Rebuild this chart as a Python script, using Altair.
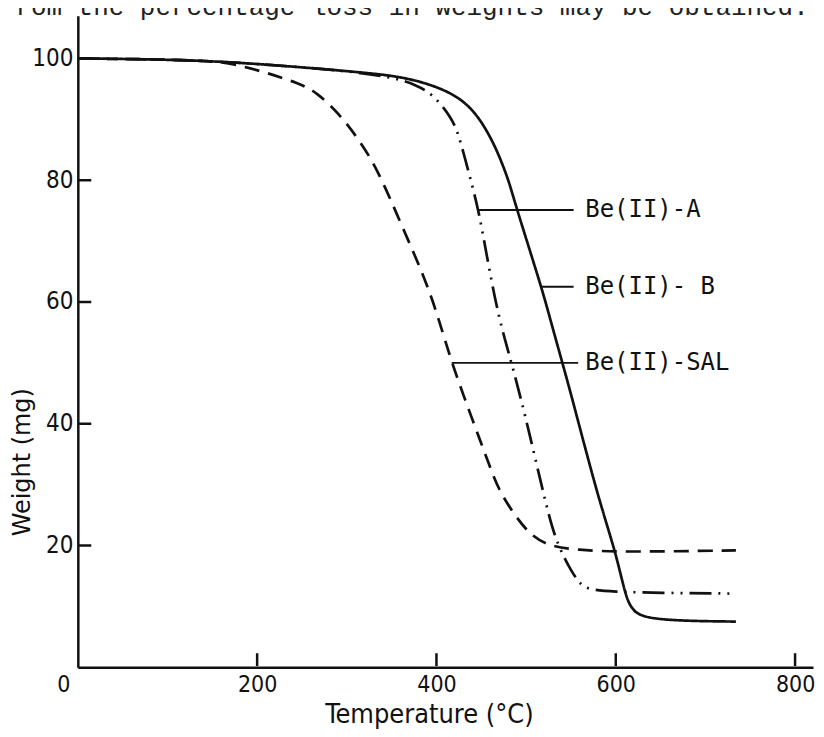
import altair as alt
import pandas as pd

# ---- data ----
b_temp = [0, 136, 247, 310, 358, 395, 425, 444, 458, 469, 481, 488, 517, 525, 541, 551, 581, 600, 611, 618, 633, 734]
b_wt   = [100, 99.8, 98.6, 97.8, 97.1, 95.7, 93.7, 91.0, 87.7, 84.4, 79.8, 76.0, 62.5, 58.2, 49.7, 44.4, 27.5, 18.9, 11.6, 9.5, 7.7, 7.5]

a_temp = [0, 136, 247, 310, 358, 377, 395, 417, 425, 436, 447, 455, 469, 484, 503, 525, 536, 551, 562, 577, 734]
a_wt   = [100, 99.8, 98.6, 97.8, 96.7, 95.6, 94.3, 90.3, 87.4, 81.3, 75.1, 68.5, 57.5, 50.0, 39.0, 24.8, 19.8, 15.6, 13.3, 12.3, 12.1]

sal_temp = [0, 136, 172, 210, 247, 266, 291, 314, 335, 362, 388, 403, 417, 439, 458, 469, 488, 506, 528, 557, 600, 734]
sal_wt   = [100, 99.8, 99.2, 97.7, 95.9, 94.5, 91.0, 86.6, 81.6, 72.3, 63.6, 57.0, 50.0, 41.1, 33.6, 29.2, 24.8, 21.5, 19.8, 19.3, 18.9, 19.2]

series_names = ["Be(II)-A", "Be(II)- B", "Be(II)-SAL"]
label_temp = [566, 566, 566]
label_wt = [75.1, 62.5, 50.0]
leader_start = [447, 517, 417]
leader_end = [553, 553, 558]

x_ticks = [200, 400, 600, 800]
y_ticks = [20, 40, 60, 80, 100]
x_domain = [0, 820]
y_domain = [0, 107]
x_tick_from, x_tick_to = 0.2, 2.3    # inward x ticks, in weight units
y_tick_from, y_tick_to = 1.0, 15.0   # inward y ticks, in temperature units

header_text = "from the percentage loss in weights may be obtained."

# ---- tables ----
rows = []
for name, ts, ws in zip(series_names, [a_temp, b_temp, sal_temp], [a_wt, b_wt, sal_wt]):
    for i, (t, w) in enumerate(zip(ts, ws)):
        rows.append({"series": name, "T": t, "W": w, "order": i})
curves = pd.DataFrame(rows)

labels = pd.DataFrame({"name": series_names, "T": label_temp, "W": label_wt})
leaders = pd.DataFrame({"T0": leader_start, "T1": leader_end, "W": label_wt})
xt = pd.DataFrame({"TX": x_ticks, "WA": [x_tick_from] * len(x_ticks), "WB": [x_tick_to] * len(x_ticks)})
yt = pd.DataFrame({"WY": y_ticks, "TA": [y_tick_from] * len(y_ticks), "TB": [y_tick_to] * len(y_ticks)})

origin = pd.DataFrame({"T": [-15.6], "W": [-1.1], "text": ["0"]})
header = pd.DataFrame({"T": [-87], "W": [107.2], "text": [header_text]})

INK = "#111111"
NUM_FONT = "DejaVu Sans Condensed"

xs = alt.Scale(domain=x_domain, nice=False, zero=False, padding=0)
ys = alt.Scale(domain=y_domain, nice=False, zero=False, padding=0)

x_axis = alt.Axis(values=x_ticks, ticks=False, tickSize=0, grid=False, domainColor=INK,
                  domainWidth=2.5, labelFont=NUM_FONT, labelFontSize=23, labelColor=INK,
                  labelPadding=6, labelBaseline="top", labelFlush=False,
                  title="Temperature (°C)", titleFont=NUM_FONT, titleFontSize=27,
                  titleFontWeight="normal", titleColor=INK, titleX=352, titleY=47,
                  titleAlign="center", titleBaseline="middle")
y_axis = alt.Axis(values=y_ticks, ticks=False, tickSize=0, grid=False, domainColor=INK,
                  domainWidth=2.5, labelFont=NUM_FONT, labelFontSize=24, labelColor=INK,
                  labelPadding=5, labelFlush=False,
                  title="Weight (mg)", titleFont="DejaVu Sans", titleFontSize=24,
                  titleFontWeight="normal", titleColor=INK, titleX=-55, titleY=447,
                  titleAngle=270, titleAlign="center", titleBaseline="middle")

lines = alt.Chart(curves).mark_line(color=INK, strokeWidth=2.7, interpolate="basis").encode(
    x=alt.X("T:Q", scale=xs, axis=x_axis),
    y=alt.Y("W:Q", scale=ys, axis=y_axis),
    detail="series:N",
    order="order:Q",
    strokeDash=alt.StrokeDash("series:N", scale=alt.Scale(
        domain=series_names, range=[[22, 7, 2, 7, 2, 7], [1, 0], [15, 9]]), legend=None),
)

leader_rules = alt.Chart(leaders).mark_rule(color=INK, strokeWidth=2).encode(
    x=alt.X("T0:Q", scale=xs), x2="T1:Q", y=alt.Y("W:Q", scale=ys))

label_text = alt.Chart(labels).mark_text(align="left", baseline="middle", font="DejaVu Sans Mono",
                                         fontSize=24, color=INK).encode(
    x=alt.X("T:Q", scale=xs), y=alt.Y("W:Q", scale=ys), text="name:N")

origin_text = alt.Chart(origin).mark_text(align="center", baseline="top", font=NUM_FONT,
                                          fontSize=23, color=INK).encode(
    x=alt.X("T:Q", scale=xs), y=alt.Y("W:Q", scale=ys), text="text:N")

header_mark = alt.Chart(header).mark_text(align="left", baseline="alphabetic", font="Liberation Mono",
                                          fontSize=26, color="#222222").encode(
    x=alt.X("T:Q", scale=xs), y=alt.Y("W:Q", scale=ys), text="text:N")

xtick_bars = alt.Chart(xt).mark_bar(color=INK, width=2.5).encode(
    x=alt.X("TX:Q", scale=xs), y=alt.Y("WA:Q", scale=ys), y2="WB:Q")
ytick_rules = alt.Chart(yt).mark_rule(color=INK, strokeWidth=2.5).encode(
    y=alt.Y("WY:Q", scale=ys), x=alt.X("TA:Q", scale=xs), x2="TB:Q")

chart = alt.layer(lines, leader_rules, label_text, origin_text, header_mark, xtick_bars, ytick_rules).properties(
    width=737, height=653,
    padding={"left": 70, "top": 7, "right": 3, "bottom": 61},
    autosize=alt.AutoSizeParams(type="none"),
).configure_view(stroke=None)

chart.save("out.html", embed_options={"renderer": "svg", "actions": False})
